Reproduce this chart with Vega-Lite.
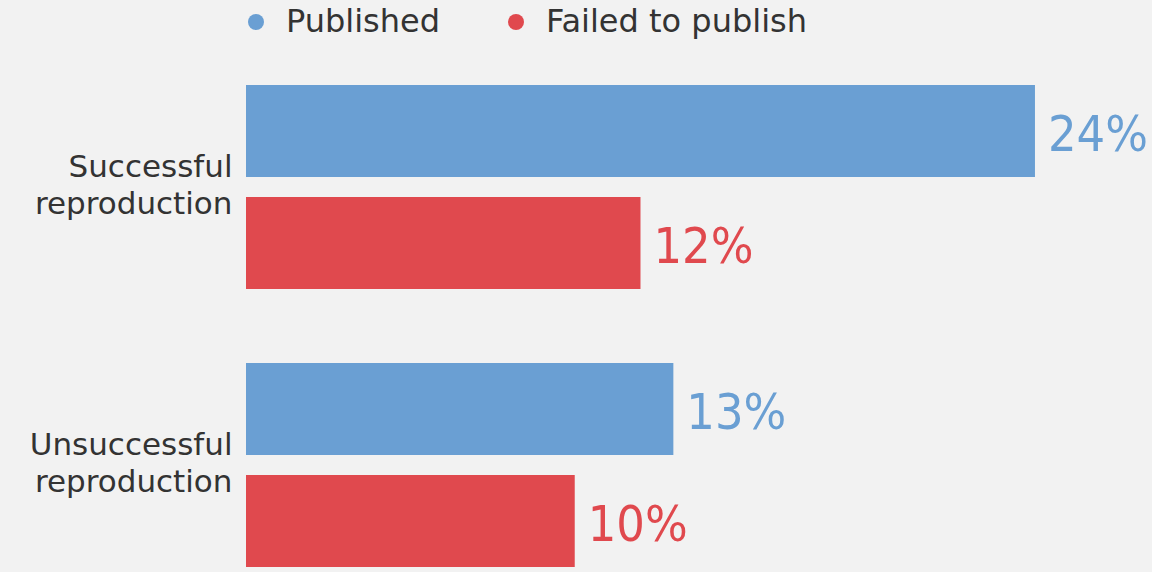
{
  "$schema": "https://vega.github.io/schema/vega-lite/v6.json",
  "width": 906,
  "height": 482,
  "autosize": {"type": "none"},
  "padding": {"left": 246, "top": 85, "right": 0, "bottom": 5},
  "background": "#f2f2f2",
  "data": {
    "values": [
      {"group": "Successful reproduction", "series": "Published", "value": 24, "label": "24%"},
      {"group": "Successful reproduction", "series": "Failed to publish", "value": 12, "label": "12%"},
      {"group": "Unsuccessful reproduction", "series": "Published", "value": 13, "label": "13%"},
      {"group": "Unsuccessful reproduction", "series": "Failed to publish", "value": 10, "label": "10%"}
    ]
  },
  "encoding": {
    "y": {
      "field": "group",
      "type": "nominal",
      "sort": ["Successful reproduction", "Unsuccessful reproduction"],
      "scale": {"paddingInner": 0.266, "paddingOuter": 0},
      "axis": {
        "title": null,
        "domain": false,
        "ticks": false,
        "labelFontSize": 31,
        "labelFont": "DejaVu Sans",
        "labelColor": "#333333",
        "labelPadding": 14,
        "labelLineHeight": 37,
        "labelLimit": 300,
        "labelOffset": -19,
        "labelExpr": "split(datum.label, ' ')"
      }
    },
    "yOffset": {
      "field": "series",
      "sort": ["Published", "Failed to publish"],
      "scale": {"paddingInner": 0.1786, "paddingOuter": 0}
    },
    "x": {
      "field": "value",
      "type": "quantitative",
      "scale": {"domain": [0, 27.56], "nice": false},
      "axis": null
    },
    "color": {
      "field": "series",
      "type": "nominal",
      "scale": {"domain": ["Published", "Failed to publish"], "range": ["#6a9fd3", "#e0494e"]},
      "legend": {
        "title": null,
        "orient": "none",
        "legendX": -6,
        "legendY": -79,
        "direction": "horizontal",
        "symbolType": "circle",
        "symbolSize": 256,
        "symbolStrokeWidth": 0,
        "labelFontSize": 32,
        "labelFont": "DejaVu Sans",
        "labelColor": "#333333",
        "labelOffset": 14,
        "labelLimit": 400,
        "columnPadding": 59
      }
    }
  },
  "layer": [
    {"mark": {"type": "bar"}},
    {
      "mark": {
        "type": "text",
        "align": "left",
        "baseline": "middle",
        "dx": 13,
        "dy": 5,
        "font": "DejaVu Sans Condensed",
        "fontSize": 50
      },
      "encoding": {"text": {"field": "label"}}
    }
  ],
  "config": {"view": {"stroke": null}}
}
